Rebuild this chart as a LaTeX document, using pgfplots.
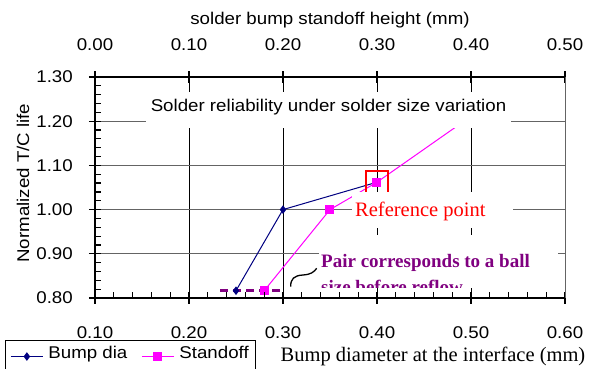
\documentclass[border=0pt]{standalone}
\usepackage{fontspec}
\setmainfont{Liberation Sans}[FakeStretch=1.1]
\newfontfamily\seriffont{Liberation Serif}
\usepackage{pgfplots}
\pgfplotsset{compat=1.18}

\definecolor{navyc}{RGB}{0,0,128}
\definecolor{magc}{RGB}{255,0,255}
\definecolor{purpc}{RGB}{128,0,128}
\definecolor{gridg}{RGB}{100,100,100}

\newcommand{\lab}{\fontsize{17}{20}\selectfont}

\begin{document}
\begin{tikzpicture}
\begin{axis}[name=ax, scale only axis, width=470pt, height=221pt,
  xmin=0.1, xmax=0.6, ymin=0.8, ymax=1.3,
  xtick={0.1,0.2,0.3,0.4,0.5,0.6}, ytick={0.8,0.9,1.0,1.1,1.2,1.3},
  axis x line*=bottom, axis y line*=left,
  axis line style={line width=1.1pt, -},
  tick align=center, major tick length=12pt,
  tick style={black, line width=1.1pt},
  grid=major,
  major x grid style={black, line width=0.9pt},
  major y grid style={gridg, line width=0.9pt},
  tick label style={font=\lab},
  xticklabel style={anchor=center, yshift=-29pt, inner sep=0pt},
  yticklabel style={anchor=east, xshift=-16pt, inner sep=0pt},
  /pgf/number format/.cd, fixed, fixed zerofill, precision=2, assume math mode=true,
  /pgfplots/.cd,
  ylabel={Normalized T/C life},
  ylabel style={at={(axis description cs:-0.153,0.52)}, anchor=center, font=\lab},
  legend columns=2,
  legend cell align=left,
  legend style={at={(axis description cs:-0.1915,-0.19)}, anchor=north west,
    draw=black, line width=0.8pt, font=\lab, inner xsep=5pt, inner ysep=3.5pt,
    /tikz/every even column/.append style={column sep=12pt},
    /tikz/every odd column/.append style={column sep=3pt}},
  legend image code/.code={\draw[mark repeat=2,mark phase=2,#1] plot coordinates {(0pt,2.5pt)(16pt,2.5pt)(32pt,2.5pt)};},
]
\addplot[purpc, line width=2.5pt, dash pattern=on 8pt off 5pt, forget plot]
  coordinates {(0.233,0.8165)(0.30,0.8165)};
\addplot[navyc, line width=1pt, mark=diamond*, mark size=3.5pt, mark options={solid}]
  coordinates {(0.25,0.8165)(0.30,1.00)(0.40,1.062)};
\addlegendentry[text depth=14pt]{Bump dia}
\addlegendimage{magc, line width=1pt, mark=square*, mark size=4pt}
\addlegendentry[text depth=14pt]{Standoff}
\end{axis}

\begin{axis}[scale only axis, width=470pt, height=221pt,
  at={(ax.south west)}, anchor=south west,
  xmin=0, xmax=0.5, ymin=0.8, ymax=1.3,
  axis x line*=top, axis y line=none,
  axis line style={line width=1.1pt, -},
  xtick={0,0.1,0.2,0.3,0.4,0.5},
  tick align=center, major tick length=12pt,
  tick style={black, line width=1.1pt},
  xticklabel style={anchor=center, yshift=26.5pt, inner sep=0pt, font=\lab},
  /pgf/number format/.cd, fixed, fixed zerofill, precision=2, assume math mode=true,
  /pgfplots/.cd,
  xlabel={solder bump standoff height (mm)},
  xlabel style={at={(axis description cs:0.5,1.258)}, anchor=center, font=\lab},
]
\addplot[red, line width=1.8pt, only marks, mark=square, mark size=11pt, forget plot]
  coordinates {(0.30,1.062)};
\addplot[magc, line width=1pt, mark=square*, mark size=4pt]
  coordinates {(0.18,0.8165)(0.25,1.00)(0.30,1.062)(0.40,1.211)};
\end{axis}

\begin{scope}[shift={([shift={(-95pt,298pt)}]ax.south west)}, x=1pt, y=-1pt]
  % minor ticks (inside)
  \foreach \k in {1,2,3,4,6,7,8,9,11,12,13,14,16,17,18,19,21,22,23,24}{
    \draw[black, line width=1.2pt] ({95+\k*18.8},298) -- ({95+\k*18.8},292);
    \draw[black, line width=1.2pt] (95,{298-\k*8.84}) -- (101,{298-\k*8.84});
  }
  % title
  \fill[white] (146,92) rectangle (511,128);
  \node[anchor=base, inner sep=0pt, font=\lab] at (328.5,112) {Solder reliability under solder size variation};
  % reference point
  \fill[white] (352,192) rectangle (513,228);
  \node[anchor=base west, inner sep=0pt, text=red, font=\seriffont\fontsize{20.5}{24}\selectfont] at (355,216.7) {Reference point};
  % pair text
  \fill[white] (319,235) rectangle (558,288);
  \node[anchor=base west, inner sep=0pt, text=purpc, font=\seriffont\bfseries\fontsize{19}{22}\selectfont] at (321,268) {Pair corresponds to a ball};
  \begin{scope}
    \clip (300,235) rectangle (560,288);
    \node[anchor=base west, inner sep=0pt, text=purpc, font=\seriffont\bfseries\fontsize{19}{22}\selectfont] at (321,294) {size before reflow};
  \end{scope}
  % squiggle
  \draw[line width=1.3pt] (290.7,286.7) .. controls (290.5,279) and (294,275.5) .. (303,275) .. controls (311,274.5) and (314,272) .. (316.7,268.3);
  % right edge
  \draw[gridg, line width=0.9pt] (565,77) -- (565,298);
  % bottom-right label
  \fill[white] (275,345) rectangle (590,369);
  \node[anchor=base, inner sep=0pt, font=\seriffont\fontsize{20.5}{24}\selectfont] at (433,362) {Bump diameter at the interface (mm)};
\end{scope}

\pgfresetboundingbox
\useasboundingbox ([shift={(-95pt,-71pt)}]ax.south west) rectangle ++(590pt,369pt);
\end{tikzpicture}
\end{document}
